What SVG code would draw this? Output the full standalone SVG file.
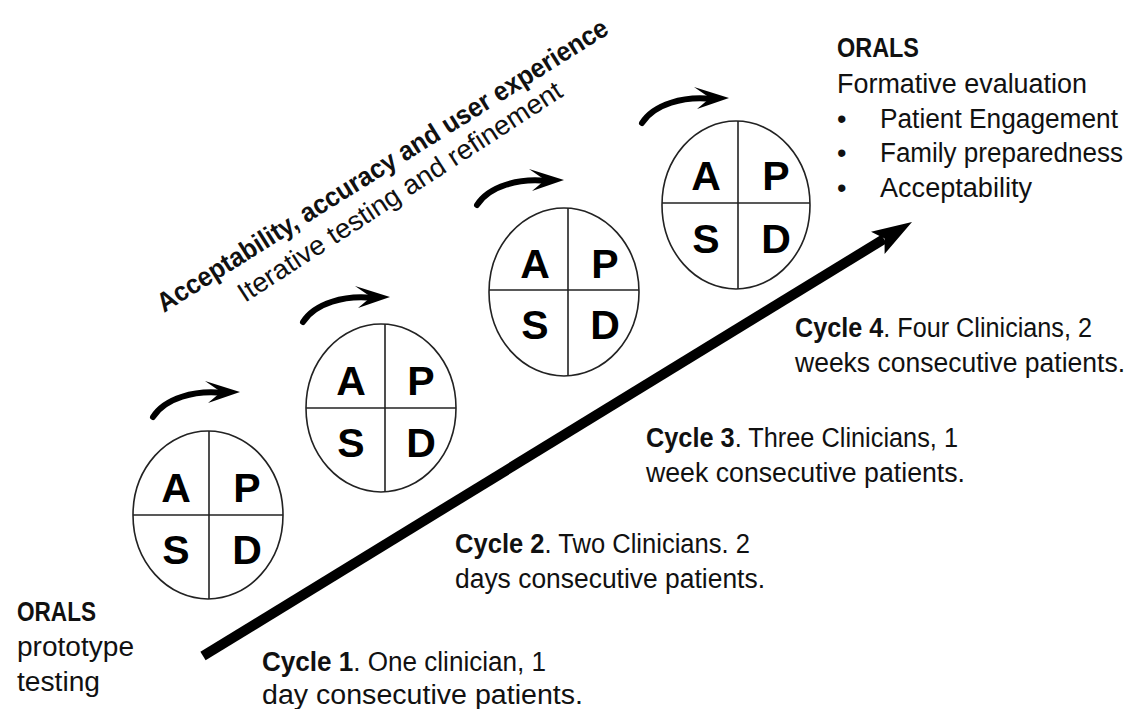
<svg xmlns="http://www.w3.org/2000/svg" xmlns:xlink="http://www.w3.org/1999/xlink" width="1131" height="709" viewBox="0 0 1131 709">
<style>
.t{font-family:"Liberation Sans",Arial,sans-serif;font-size:27px;fill:#111}
.b{font-weight:bold}
.ring{fill:none;stroke:#222;stroke-width:1.6}
.div{stroke:#222;stroke-width:1.6}
.L{font-family:"Liberation Sans",Arial,sans-serif;font-size:41px;font-weight:bold;fill:#000;text-anchor:middle}
.shaft{fill:none;stroke:#000;stroke-width:6;stroke-linecap:round}
</style>
<defs>
<g id="curl">
<path class="shaft" d="M0,0 C12,-19 42,-27 70,-24"/>
<polygon points="87,-25 52,-36 68,-25 55,-14" fill="#000"/>
</g>
</defs>
<rect width="1131" height="709" fill="#fff"/>

<g id="connectors">
<line x1="203" y1="656" x2="884" y2="239" stroke="#000" stroke-width="10"/>
<polygon points="912,222 871,231.7 884.6,238.6 884.6,253.9" fill="#000"/>
<use xlink:href="#curl" x="153" y="417"/>
<use xlink:href="#curl" x="303" y="322"/>
<use xlink:href="#curl" x="477" y="205"/>
<use xlink:href="#curl" x="642" y="123"/>
</g>

<g id="pdsa1">
<ellipse class="ring" cx="208" cy="515" rx="75" ry="84"/>
<line class="div" x1="209" y1="431" x2="209" y2="599"/>
<line class="div" x1="133" y1="515" x2="283" y2="515"/>
<text class="L" x="176" y="502">A</text><text class="L" x="247" y="502">P</text>
<text class="L" x="176" y="564">S</text><text class="L" x="247" y="564">D</text>
</g>
<g id="pdsa2">
<ellipse class="ring" cx="381" cy="408" rx="75" ry="84"/>
<line class="div" x1="385" y1="324" x2="385" y2="492"/>
<line class="div" x1="306" y1="408" x2="456" y2="408"/>
<text class="L" x="351" y="395">A</text><text class="L" x="421" y="395">P</text>
<text class="L" x="351" y="457">S</text><text class="L" x="421" y="457">D</text>
</g>
<g id="pdsa3">
<ellipse class="ring" cx="564" cy="292" rx="75" ry="84"/>
<line class="div" x1="568" y1="208" x2="568" y2="376"/>
<line class="div" x1="489" y1="290" x2="639" y2="290"/>
<text class="L" x="535" y="278">A</text><text class="L" x="605" y="278">P</text>
<text class="L" x="535" y="339">S</text><text class="L" x="605" y="339">D</text>
</g>
<g id="pdsa4">
<ellipse class="ring" cx="736" cy="205" rx="74" ry="84"/>
<line class="div" x1="738" y1="121" x2="738" y2="289"/>
<line class="div" x1="662" y1="203" x2="810" y2="203"/>
<text class="L" x="706" y="190">A</text><text class="L" x="776" y="190">P</text>
<text class="L" x="706" y="253">S</text><text class="L" x="776" y="253">D</text>
</g>

<g id="heading">
<text class="t b" x="164" y="313" font-size="25" textLength="527" lengthAdjust="spacingAndGlyphs" transform="rotate(-32.1 164 313)">Acceptability, accuracy and user experience</text>
<text class="t" x="245" y="303" font-size="25" textLength="381" lengthAdjust="spacingAndGlyphs" transform="rotate(-33 245 303)">Iterative testing and refinement</text>
</g>

<g id="orals-end">
<text class="t b" x="837" y="57" textLength="82" lengthAdjust="spacingAndGlyphs">ORALS</text>
<text class="t" x="837" y="93" textLength="250" lengthAdjust="spacingAndGlyphs">Formative evaluation</text>
<text class="t" x="837" y="128">•</text>
<text class="t" x="880" y="128" textLength="238" lengthAdjust="spacingAndGlyphs">Patient Engagement</text>
<text class="t" x="837" y="162">•</text>
<text class="t" x="880" y="162" textLength="243" lengthAdjust="spacingAndGlyphs">Family preparedness</text>
<text class="t" x="837" y="197">•</text>
<text class="t" x="880" y="197" textLength="152" lengthAdjust="spacingAndGlyphs">Acceptability</text>
</g>

<g id="orals-start">
<text class="t b" x="17" y="621" textLength="79" lengthAdjust="spacingAndGlyphs">ORALS</text>
<text class="t" x="17" y="656" textLength="117" lengthAdjust="spacingAndGlyphs">prototype</text>
<text class="t" x="17" y="691" textLength="83" lengthAdjust="spacingAndGlyphs">testing</text>
</g>

<g id="cycle4">
<text class="t" x="795" y="337" textLength="297" lengthAdjust="spacingAndGlyphs"><tspan class="b">Cycle 4</tspan>. Four Clinicians, 2</text>
<text class="t" x="795" y="372" textLength="330" lengthAdjust="spacingAndGlyphs">weeks consecutive patients.</text>
</g>
<g id="cycle3">
<text class="t" x="646" y="447" textLength="312" lengthAdjust="spacingAndGlyphs"><tspan class="b">Cycle 3</tspan>. Three Clinicians, 1</text>
<text class="t" x="646" y="482" textLength="319" lengthAdjust="spacingAndGlyphs">week consecutive patients.</text>
</g>
<g id="cycle2">
<text class="t" x="455" y="553" textLength="295" lengthAdjust="spacingAndGlyphs"><tspan class="b">Cycle 2</tspan>. Two Clinicians. 2</text>
<text class="t" x="455" y="588" textLength="310" lengthAdjust="spacingAndGlyphs">days consecutive patients.</text>
</g>
<g id="cycle1">
<text class="t" x="262" y="671" textLength="284" lengthAdjust="spacingAndGlyphs"><tspan class="b">Cycle 1</tspan>. One clinician, 1</text>
<text class="t" x="262" y="704" textLength="321" lengthAdjust="spacingAndGlyphs">day consecutive patients.</text>
</g>
</svg>
